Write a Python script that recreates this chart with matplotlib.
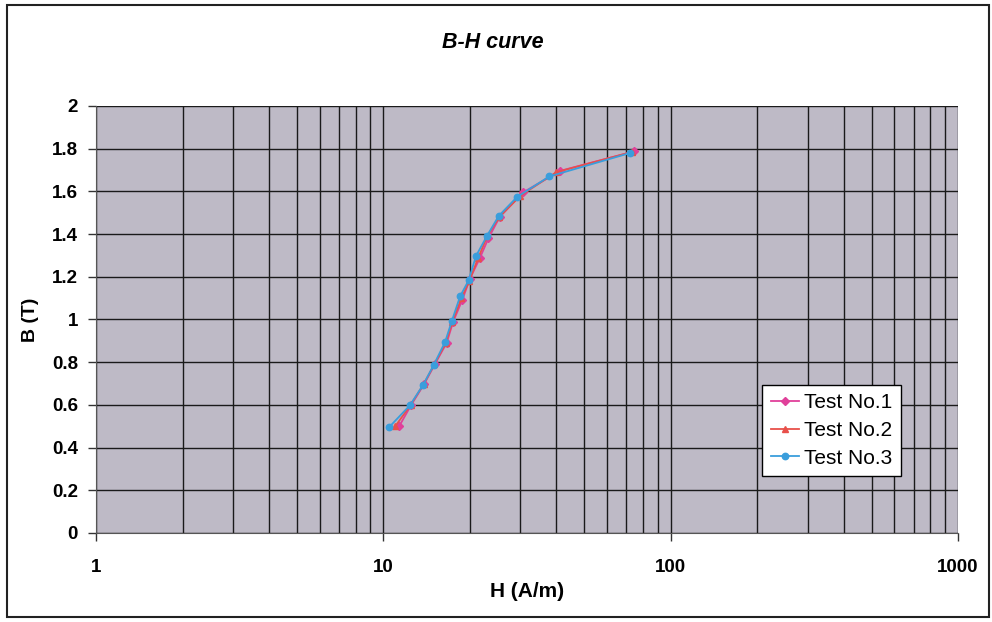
import matplotlib
matplotlib.use("Agg")
import matplotlib.pyplot as plt
from matplotlib.patches import Rectangle
from matplotlib.ticker import LogLocator, FixedLocator, NullFormatter, FuncFormatter

# Data (H in A/m, B in T)
h_test1 = [11.35, 12.5, 13.9, 15.1, 16.6, 17.5, 18.8, 20.0, 21.7, 23.2, 25.4, 30.6, 41.2, 74.4]
b_test1 = [0.50, 0.60, 0.70, 0.79, 0.89, 0.99, 1.09, 1.19, 1.29, 1.38, 1.48, 1.595, 1.696, 1.787]
h_test2 = [11.0, 12.45, 13.85, 15.05, 16.5, 17.4, 18.7, 19.9, 21.4, 23.0, 25.3, 30.0, 40.0, 73.5]
b_test2 = [0.50, 0.60, 0.70, 0.79, 0.89, 0.99, 1.10, 1.18, 1.29, 1.39, 1.48, 1.58, 1.69, 1.785]
h_test3 = [10.48, 12.37, 13.77, 15.0, 16.4, 17.3, 18.5, 19.8, 21.0, 22.9, 25.2, 29.2, 37.8, 72.3]
b_test3 = [0.496, 0.598, 0.695, 0.789, 0.895, 0.992, 1.109, 1.183, 1.297, 1.39, 1.485, 1.574, 1.67, 1.78]

series_labels = ["Test No.1", "Test No.2", "Test No.3"]
x_ticks = [1, 10, 100, 1000]
y_ticks = [0, 0.2, 0.4, 0.6, 0.8, 1, 1.2, 1.4, 1.6, 1.8, 2]

plt.rcParams['font.family'] = ['Liberation Sans', 'DejaVu Sans']

fig = plt.figure(figsize=(9.92, 6.22), dpi=100)
fig.patch.set_facecolor("white")
ax = fig.add_axes([0.0968, 0.1431, 0.8690, 0.6865])
ax.set_facecolor("#BEBAC6")

ax.set_xscale("log")
ax.set_xlim(1, 1000)
ax.set_ylim(0, 2)

ax.xaxis.set_major_locator(FixedLocator(x_ticks))
ax.xaxis.set_minor_locator(LogLocator(base=10, subs=range(2, 10)))
ax.xaxis.set_minor_formatter(NullFormatter())
ax.xaxis.set_major_formatter(FuncFormatter(lambda v, p: f"{int(v)}"))
ax.yaxis.set_major_locator(FixedLocator(y_ticks))
ax.yaxis.set_major_formatter(FuncFormatter(lambda v, p: f"{v:g}"))

ax.grid(True, which="major", color="#1a1a1a", linewidth=1.0)
ax.grid(True, which="minor", axis="x", color="#1a1a1a", linewidth=1.0)
ax.set_axisbelow(True)

ax.tick_params(axis="both", which="major", direction="out", length=6, width=1,
               color="#333333", labelsize=13.5, pad=7)
ax.tick_params(axis="x", which="minor", length=0)
for lab in ax.get_xticklabels() + ax.get_yticklabels():
    lab.set_fontweight("bold")
ax.tick_params(axis="x", pad=13)

for s in ["top", "right"]:
    ax.spines[s].set_visible(False)
ax.spines["left"].set_color("#555555")
ax.spines["bottom"].set_color("#555555")

ax.plot(h_test1, b_test1, color="#E0409A", marker="D", markersize=3.8, linewidth=1.3,
        label=series_labels[0], zorder=3)
ax.plot(h_test2, b_test2, color="#E8504A", marker="^", markersize=4.2, linewidth=1.3,
        label=series_labels[1], zorder=3)
ax.plot(h_test3, b_test3, color="#3A9EDC", marker="o", markersize=4.6, linewidth=1.3,
        label=series_labels[2], zorder=4)

leg = ax.legend(loc="upper left", bbox_to_anchor=(0.773, 0.347), fontsize=15,
                frameon=True, fancybox=False, edgecolor="black", framealpha=1,
                handlelength=1.35, handletextpad=0.25, borderpad=0.4, labelspacing=0.42,
                borderaxespad=0)
leg.get_frame().set_linewidth(1.0)

ax.set_xlabel("H (A/m)", fontsize=15, fontweight="bold", labelpad=4)
ax.set_ylabel("B (T)", fontsize=14, fontweight="bold", labelpad=9)
fig.text(0.497, 0.932, "B-H curve", ha="center", va="center", fontsize=15.5,
         fontweight="bold", fontstyle="italic")

# outer chart frame
fig.patches.append(Rectangle((0.007, 0.008), 0.990, 0.984, transform=fig.transFigure,
                             fill=False, edgecolor="#222222", linewidth=1.5))

fig.savefig("out.png", dpi=100)
